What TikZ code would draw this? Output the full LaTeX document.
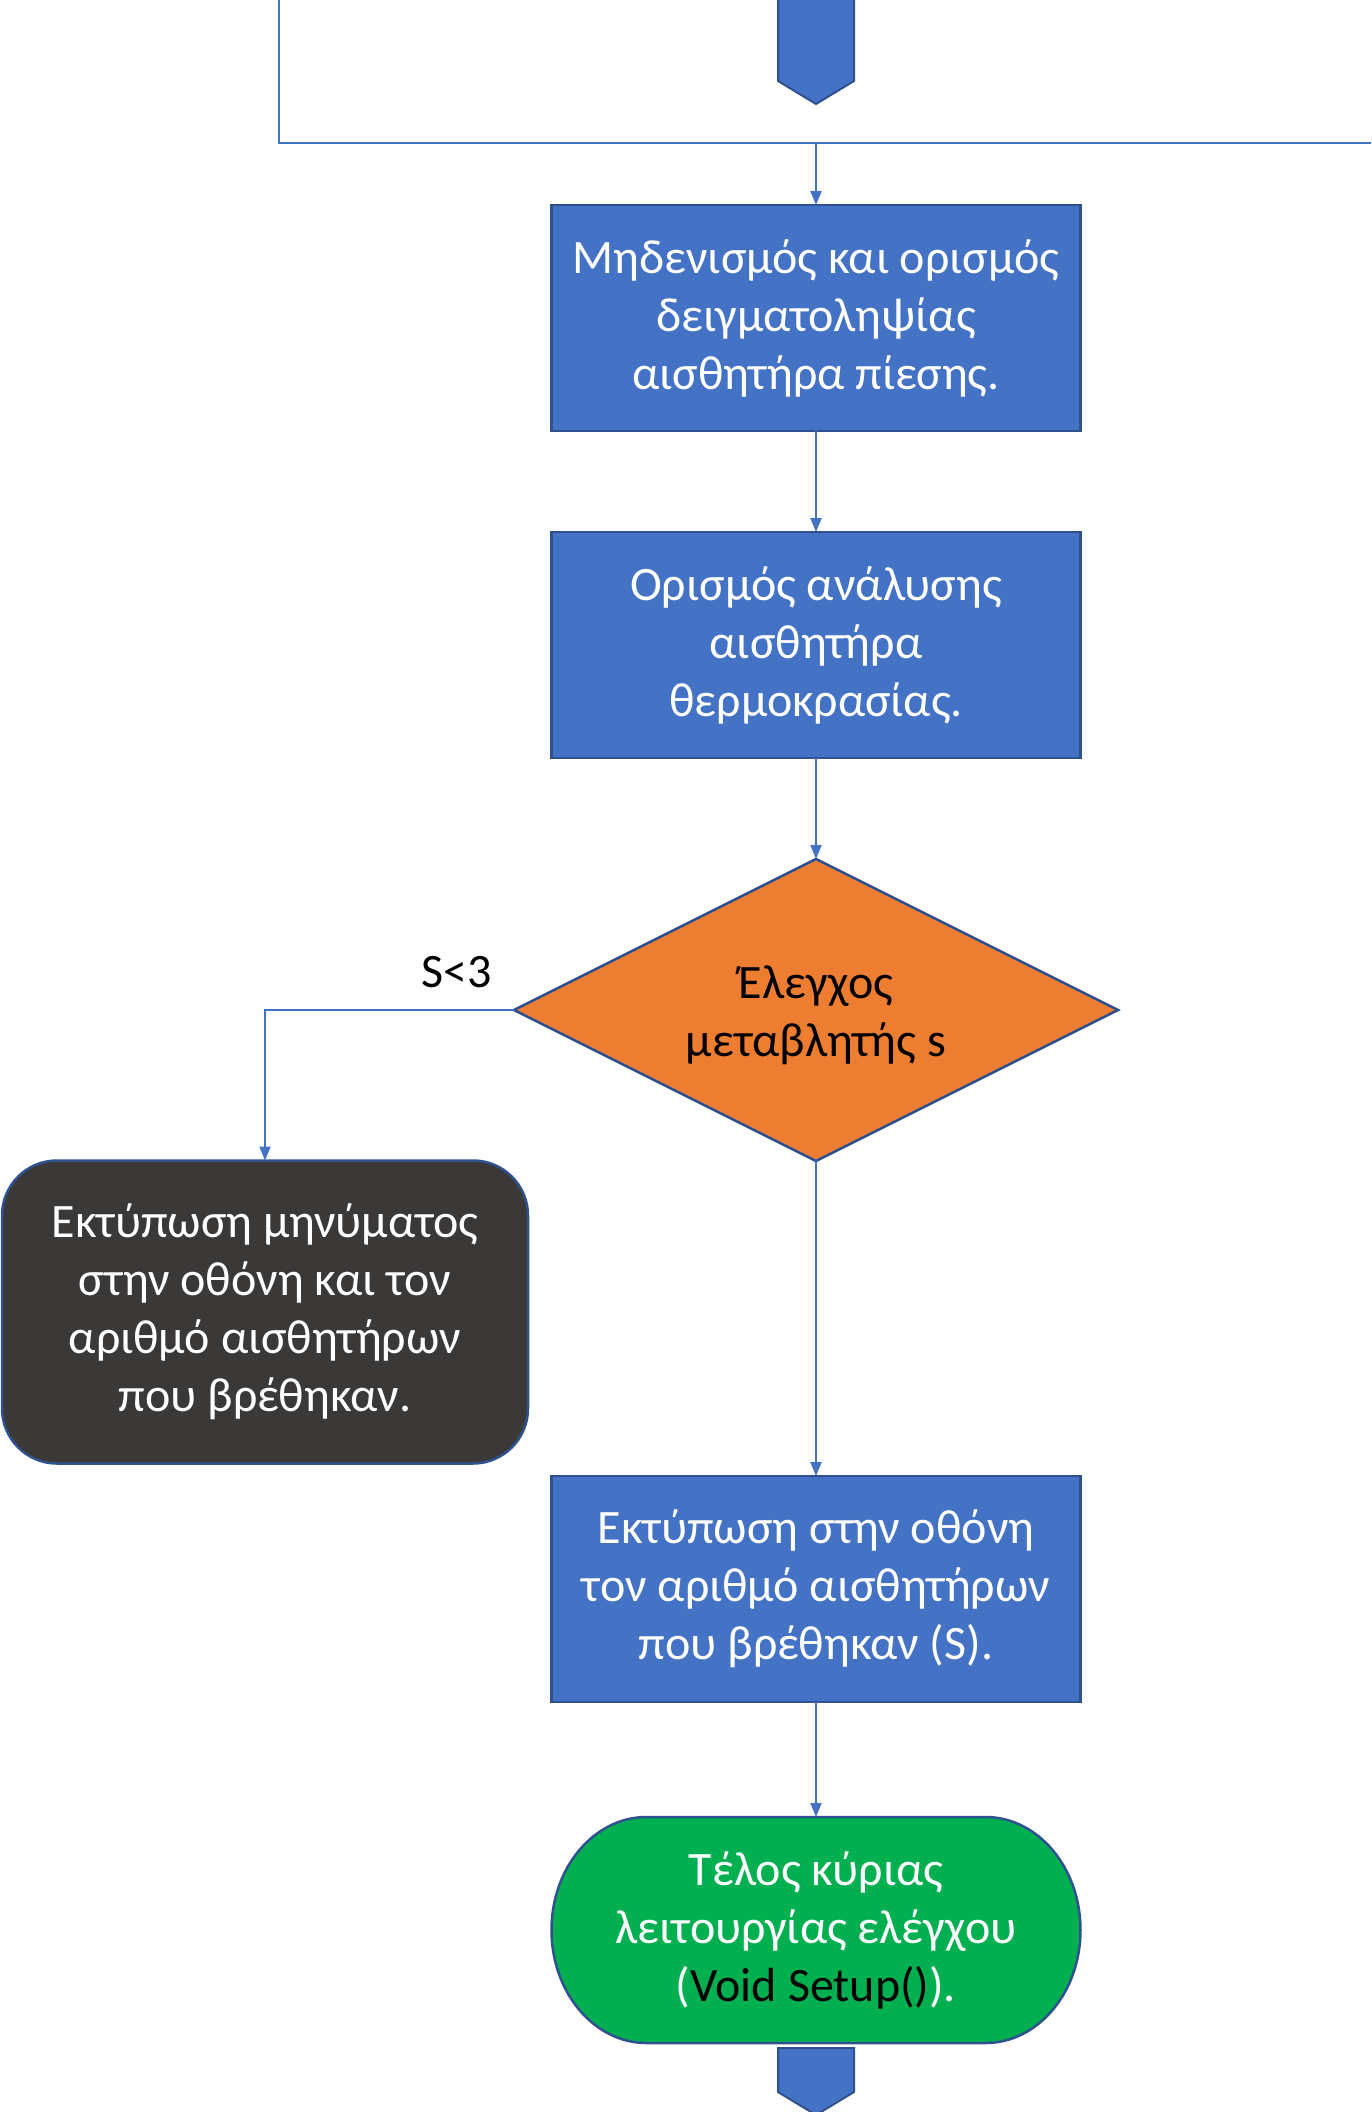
\documentclass[tikz,border=0pt]{standalone}
\usepackage{fontspec}
\setmainfont{Carlito}
\usetikzlibrary{arrows.meta,shapes.geometric,calc,backgrounds}
\definecolor{boxblue}{HTML}{4472C4}
\definecolor{edgeblue}{HTML}{2F528F}
\definecolor{decorange}{HTML}{ED7D31}
\definecolor{darkgrey}{HTML}{3B3838}
\definecolor{termgreen}{HTML}{00B050}

\begin{document}
\begin{tikzpicture}[x=1pt,y=-1pt,
  every node/.style={font=\fontsize{48}{58}\selectfont, align=center, inner sep=0pt, outer sep=0pt},
  process/.style={rectangle, fill=boxblue, draw=edgeblue, line width=2.5pt, text=white,
    minimum width=529pt, minimum height=226pt},
  decision/.style={diamond, fill=decorange, draw=edgeblue, line width=2.5pt,
    minimum width=604pt, minimum height=302pt},
  message/.style={rectangle, rounded corners=55pt, fill=darkgrey, draw=edgeblue, line width=2.5pt,
    text=white, minimum width=526pt, minimum height=303pt},
  terminal/.style={rectangle, text=white, minimum width=529pt, minimum height=226pt},
  offpage/.style={fill=boxblue, draw=edgeblue, line width=2pt},
  link/.style={draw=boxblue, line width=2pt},
  flow/.style={link, -{Triangle[length=14pt,width=11pt]}}
]
\useasboundingbox (0,0) rectangle (1371,2112);
\clip (0,0) rectangle (1371,2112);

% off-page connector coming in from above
\path[offpage] (778,-10) -- (778,81) -- (816,104) -- (854,81) -- (854,-10) -- cycle;

% loop-back line joining the main flow
\coordinate (loopTop) at (279,-10);
\coordinate (loopCorner) at (279,143);
\coordinate (merge) at (816,143);
\coordinate (loopRight) at (1380,143);
\draw[link] (loopTop) -- (loopCorner) -- (loopRight);

% steps
\node[process] (reset) at (816,318)
  {Μηδενισμός και ορισμός\\δειγματοληψίας\\αισθητήρα πίεσης.};
\node[process] (resol) at (816,645)
  {Ορισμός ανάλυσης\\αισθητήρα\\θερμοκρασίας.};
\node[decision] (check) at (816,1010) {};
\node[text=black] (checktext) at (816,1015) {Έλεγχος\\μεταβλητής s};
\node[message] (warn) at (265,1312)
  {Εκτύπωση μηνύματος\\στην οθόνη και τον\\αριθμό αισθητήρων\\που βρέθηκαν.};
\node[process] (count) at (816,1589)
  {Εκτύπωση στην οθόνη\\τον αριθμό αισθητήρων\\που βρέθηκαν (S).};
\node[terminal] (finish) at (816,1930)
  {Τέλος κύριας\\λειτουργίας ελέγχου\\(\textcolor{black}{Void Setup()}).};

% terminator outline with elliptical ends
\begin{scope}[on background layer]
  \path[fill=termgreen, draw=edgeblue, line width=2.5pt]
    ($(finish.north west)+(95,0)$) -- ($(finish.north east)+(-95,0)$)
    arc[start angle=90, end angle=-90, x radius=95pt, y radius=113pt]
    -- ($(finish.south west)+(95,0)$)
    arc[start angle=-90, end angle=-270, x radius=95pt, y radius=113pt]
    -- cycle;
\end{scope}

% off-page connector leaving below
\path[offpage] (778,2048) -- (778,2092) -- (816,2115) -- (854,2092) -- (854,2048) -- cycle;

% connectors
\draw[flow] (merge) -- (reset.north);
\draw[flow] (reset.south) -- (resol.north);
\draw[flow] (resol.south) -- (check.north);
\draw[flow] (check.west) -| (warn.north);
\node[text=black] (lessthree) at (457,972) {S<3};
\draw[flow] (check.south) -- (count.north);
\draw[flow] (count.south) -- (finish.north);
\end{tikzpicture}
\end{document}
